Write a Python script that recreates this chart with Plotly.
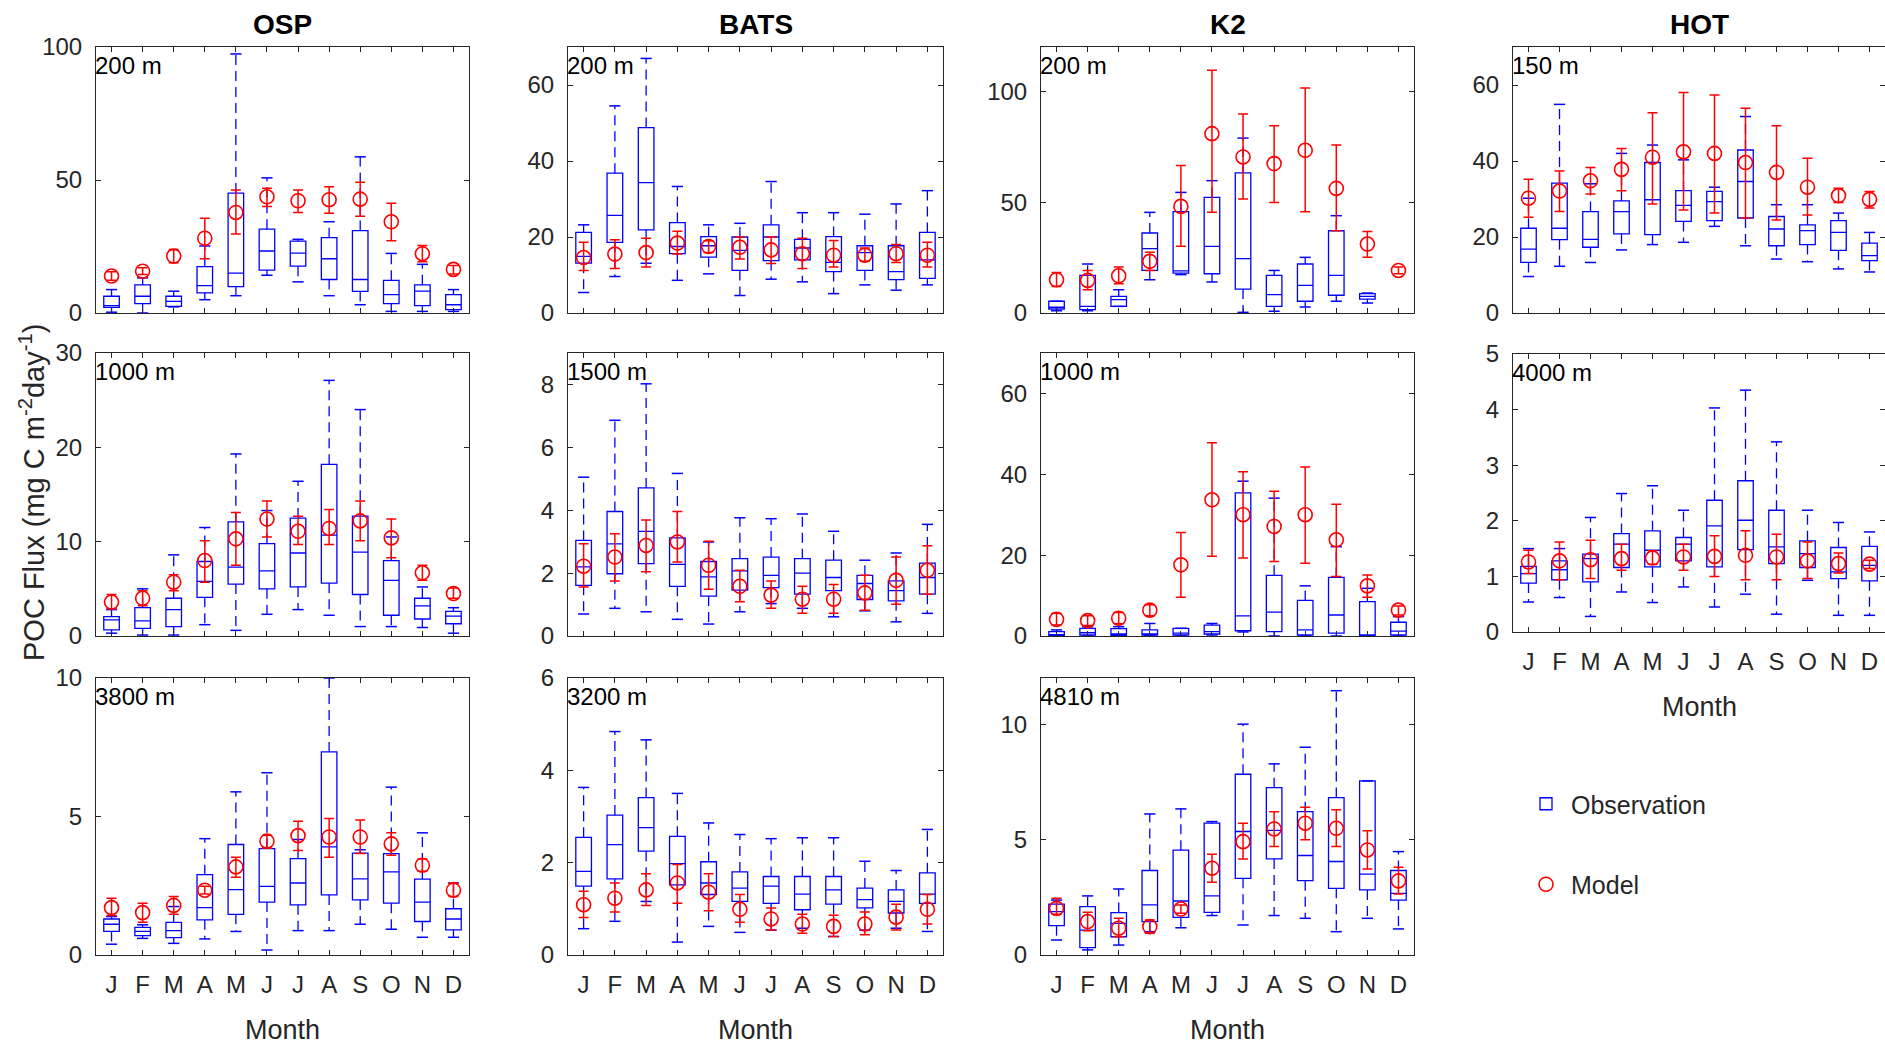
import plotly.graph_objects as go

months = ['J', 'F', 'M', 'A', 'M', 'J', 'J', 'A', 'S', 'O', 'N', 'D']
mnum = list(range(1, 13))

# ---------------- OSP ----------------
osp200_wlo = [0.3, 0.0, 2.3, 5.0, 6.5, 14.2, 11.7, 6.5, 3.1, 0.6, 0.6, 0.6]
osp200_q1 = [2.1, 3.5, 2.5, 7.6, 9.9, 16.1, 17.6, 12.6, 8.1, 3.5, 2.8, 1.3]
osp200_med = [2.8, 6.3, 4.4, 10.3, 15.0, 23.3, 22.5, 20.4, 12.6, 6.9, 8.2, 3.1]
osp200_q3 = [6.3, 10.6, 6.3, 17.4, 45.1, 31.5, 27.0, 28.3, 31.0, 12.3, 10.6, 6.9]
osp200_whi = [8.8, 13.2, 8.2, 25.2, 97.4, 50.8, 27.7, 34.3, 58.7, 22.4, 18.3, 8.8]
osp200_mod = [13.9, 15.7, 21.4, 28.1, 37.8, 43.7, 42.2, 42.6, 42.8, 34.3, 22.3, 16.4]
osp200_mhi = [15.5, 17.0, 23.9, 35.6, 46.2, 46.9, 46.2, 47.5, 49.2, 41.3, 25.4, 17.9]
osp200_mlo = [12.3, 14.5, 18.9, 20.4, 29.7, 40.0, 37.8, 37.5, 36.4, 27.2, 19.3, 14.7]

osp1000_wlo = [0.3, 0.1, 0.1, 1.2, 0.6, 2.3, 2.8, 2.2, 1.0, 1.0, 0.9, 0.3]
osp1000_q1 = [0.64, 0.8, 1.0, 4.1, 5.5, 5.0, 5.2, 5.6, 4.4, 2.2, 1.8, 1.3]
osp1000_med = [1.7, 1.6, 2.8, 5.8, 7.3, 6.9, 8.8, 10.7, 8.9, 5.9, 3.2, 2.1]
osp1000_q3 = [2.05, 3.0, 4.0, 7.9, 12.1, 9.8, 12.5, 18.2, 12.7, 8.0, 4.0, 2.6]
osp1000_whi = [2.8, 5.0, 8.6, 11.5, 19.3, 13.3, 16.4, 27.1, 24.0, 10.5, 5.2, 3.0]
osp1000_mod = [3.6, 4.0, 5.7, 8.0, 10.3, 12.4, 11.1, 11.4, 12.2, 10.4, 6.7, 4.5]
osp1000_mhi = [4.4, 4.8, 6.5, 10.1, 13.1, 14.3, 12.7, 13.4, 14.3, 12.4, 7.5, 5.1]
osp1000_mlo = [2.9, 3.2, 4.8, 5.7, 7.5, 10.5, 9.7, 9.7, 10.1, 8.3, 5.9, 4.0]

osp3800_wlo = [0.39, 0.6, 0.42, 0.58, 0.85, 0.18, 0.88, 0.88, 1.11, 0.93, 0.64, 0.64]
osp3800_q1 = [0.85, 0.7, 0.63, 1.27, 1.47, 1.91, 1.81, 2.17, 1.99, 1.87, 1.21, 0.91]
osp3800_med = [1.11, 0.85, 0.88, 1.71, 2.36, 2.48, 2.6, 3.9, 2.75, 3.0, 1.91, 1.3]
osp3800_q3 = [1.3, 1.0, 1.18, 2.9, 3.99, 3.84, 3.48, 7.33, 3.68, 3.66, 2.74, 1.67]
osp3800_whi = [1.39, 1.09, 1.75, 4.2, 5.89, 6.58, 4.17, 10.0, 3.8, 6.06, 4.41, 2.6]
osp3800_mod = [1.71, 1.53, 1.79, 2.34, 3.18, 4.11, 4.31, 4.26, 4.26, 4.01, 3.24, 2.34]
osp3800_mhi = [2.05, 1.87, 2.11, 2.48, 3.53, 4.32, 4.83, 4.93, 4.87, 4.41, 3.47, 2.6]
osp3800_mlo = [1.43, 1.18, 1.47, 2.2, 2.81, 3.86, 3.77, 3.53, 3.66, 3.6, 3.02, 2.11]

# ---------------- BATS ----------------
bats200_wlo = [5.4, 9.6, 13.1, 8.6, 10.3, 4.6, 8.9, 8.2, 5.1, 7.4, 6.0, 7.4]
bats200_q1 = [13.1, 18.6, 21.9, 15.6, 14.7, 11.2, 13.8, 14.0, 10.9, 11.2, 8.8, 9.1]
bats200_med = [14.9, 25.7, 34.3, 17.5, 17.7, 16.5, 20.0, 17.1, 13.3, 15.9, 10.9, 14.0]
bats200_q3 = [21.2, 36.8, 48.8, 23.8, 20.1, 20.0, 23.2, 19.4, 20.1, 17.7, 17.7, 21.2]
bats200_whi = [23.2, 54.5, 67.0, 33.3, 23.2, 23.6, 34.6, 26.4, 26.4, 26.0, 28.7, 32.2]
bats200_mod = [14.6, 15.5, 15.9, 18.4, 17.5, 17.3, 16.6, 15.6, 15.2, 15.2, 15.6, 15.2]
bats200_mhi = [18.6, 19.3, 19.7, 21.5, 19.0, 20.0, 20.0, 19.7, 19.1, 17.1, 18.0, 18.6]
bats200_mlo = [11.2, 11.7, 12.1, 15.5, 15.9, 14.2, 13.0, 11.7, 12.1, 13.6, 13.3, 12.1]

bats1500_wlo = [0.7, 0.88, 0.77, 0.53, 0.38, 0.77, 1.03, 0.88, 0.61, 0.8, 0.45, 0.72]
bats1500_q1 = [1.61, 1.98, 2.3, 1.58, 1.27, 1.46, 1.54, 1.33, 1.44, 1.16, 1.12, 1.33]
bats1500_med = [2.2, 2.93, 3.33, 2.28, 1.88, 2.07, 1.93, 2.0, 1.86, 1.67, 1.44, 1.86]
bats1500_q3 = [3.04, 3.96, 4.71, 3.12, 2.37, 2.46, 2.51, 2.46, 2.41, 1.93, 1.75, 2.32]
bats1500_whi = [5.05, 6.86, 8.02, 5.17, 2.99, 3.76, 3.73, 3.88, 3.33, 2.41, 2.64, 3.55]
bats1500_mod = [2.22, 2.51, 2.88, 2.99, 2.25, 1.58, 1.3, 1.17, 1.17, 1.37, 1.77, 2.09]
bats1500_mhi = [2.93, 3.25, 3.69, 3.96, 3.01, 2.09, 1.75, 1.58, 1.64, 1.93, 2.51, 2.87]
bats1500_mlo = [1.56, 1.75, 2.04, 2.35, 1.49, 1.09, 0.88, 0.72, 0.72, 0.82, 1.01, 1.33]

bats3200_wlo = [0.57, 0.73, 1.16, 0.28, 0.62, 0.49, 0.54, 0.58, 0.4, 0.54, 0.58, 0.51]
bats3200_q1 = [1.49, 1.65, 2.25, 1.52, 1.31, 1.16, 1.12, 0.98, 1.1, 1.02, 0.91, 1.12]
bats3200_med = [1.81, 2.39, 2.76, 1.98, 1.56, 1.45, 1.49, 1.32, 1.41, 1.2, 1.16, 1.32]
bats3200_q3 = [2.55, 3.03, 3.41, 2.57, 2.02, 1.8, 1.7, 1.7, 1.7, 1.45, 1.41, 1.78]
bats3200_whi = [3.63, 4.84, 4.66, 3.5, 2.86, 2.61, 2.52, 2.54, 2.54, 2.03, 1.83, 2.72]
bats3200_mod = [1.09, 1.23, 1.41, 1.56, 1.36, 0.99, 0.78, 0.67, 0.62, 0.67, 0.82, 0.99]
bats3200_mhi = [1.38, 1.56, 1.76, 1.96, 1.76, 1.31, 1.02, 0.88, 0.86, 0.93, 1.1, 1.31]
bats3200_mlo = [0.81, 0.93, 1.07, 1.12, 0.96, 0.71, 0.54, 0.47, 0.4, 0.44, 0.54, 0.67]

# ---------------- K2 (no December observation at 200 m) ----------------
k2200_wlo = [1.0, 1.0, 3.0, 15.0, 17.3, 14.0, 0.3, 0.8, 2.7, 5.3, 4.5, None]
k2200_q1 = [1.8, 1.5, 3.0, 19.2, 18.0, 17.7, 10.8, 3.0, 5.3, 8.0, 6.3, None]
k2200_med = [2.6, 3.0, 6.0, 29.0, 19.0, 30.1, 24.5, 8.3, 12.5, 17.0, 7.5, None]
k2200_q3 = [5.3, 17.0, 7.5, 36.1, 45.7, 52.2, 63.2, 17.0, 22.1, 37.1, 8.7, None]
k2200_whi = [5.3, 22.1, 10.5, 45.4, 54.4, 59.7, 78.9, 19.2, 25.1, 43.9, 9.0, None]
k2200_mod = [15.0, 14.7, 16.8, 23.3, 48.1, 80.9, 70.4, 67.4, 73.4, 56.2, 31.1, 19.2]
k2200_mhi = [18.3, 19.2, 20.8, 27.4, 66.5, 109.5, 89.8, 84.5, 101.5, 75.8, 36.8, 20.8]
k2200_mlo = [12.0, 10.5, 13.2, 19.2, 30.1, 45.4, 51.4, 49.9, 45.7, 37.1, 25.1, 17.7]

k21000_wlo = [0.0, 0.0, 0.0, 0.0, 0.0, 0.25, 1.0, 0.0, 0.0, 0.0, 0.0, 0.0]
k21000_q1 = [0.1, 0.25, 0.15, 0.25, 0.25, 0.5, 1.3, 1.1, 0.25, 0.7, 0.0, 0.25]
k21000_med = [0.3, 0.8, 0.5, 0.5, 0.7, 1.1, 5.0, 5.9, 1.5, 5.2, 0.25, 1.2]
k21000_q3 = [1.1, 1.9, 1.8, 1.5, 1.9, 2.7, 35.4, 15.0, 8.8, 14.5, 8.5, 3.4]
k21000_whi = [1.5, 2.3, 2.3, 3.1, 1.9, 3.1, 38.3, 34.1, 12.4, 22.1, 11.8, 4.8]
k21000_mod = [4.1, 3.8, 4.4, 6.4, 17.6, 33.7, 30.0, 27.1, 30.0, 23.8, 12.4, 6.4]
k21000_mhi = [5.6, 5.0, 5.8, 7.7, 25.6, 47.8, 40.6, 35.8, 41.8, 32.6, 15.1, 7.4]
k21000_mlo = [2.7, 2.6, 3.0, 5.0, 9.6, 19.7, 19.3, 18.4, 18.0, 14.7, 9.6, 5.2]

k24810_wlo = [0.65, 0.22, 0.43, 1.01, 1.18, 1.71, 1.3, 1.71, 1.59, 1.01, 1.59, 1.13]
k24810_q1 = [1.27, 0.32, 0.79, 1.45, 1.63, 1.85, 3.32, 4.16, 3.22, 2.89, 2.82, 2.38]
k24810_med = [1.88, 1.08, 1.37, 2.17, 2.34, 2.56, 5.35, 5.4, 4.31, 4.05, 3.5, 2.67]
k24810_q3 = [2.2, 2.1, 1.84, 3.66, 4.54, 5.71, 7.83, 7.25, 6.21, 6.82, 7.54, 3.66]
k24810_whi = [2.38, 2.56, 2.86, 6.11, 6.33, 5.78, 10.0, 8.28, 9.0, 11.45, 7.54, 4.48]
k24810_mod = [2.02, 1.45, 1.16, 1.23, 1.99, 3.76, 4.91, 5.46, 5.71, 5.49, 4.55, 3.21]
k24810_mhi = [2.46, 1.85, 1.59, 1.52, 2.17, 4.36, 5.71, 6.21, 6.4, 6.29, 5.38, 3.8]
k24810_mlo = [1.76, 1.05, 0.79, 0.94, 1.81, 3.15, 4.16, 4.7, 4.99, 4.7, 3.73, 2.64]

# ---------------- HOT ----------------
hot150_wlo = [9.6, 12.3, 13.3, 16.6, 18.0, 18.6, 22.8, 17.7, 14.2, 13.5, 11.6, 10.8]
hot150_q1 = [13.3, 19.3, 17.3, 20.8, 20.6, 24.1, 24.3, 25.0, 17.7, 18.0, 16.5, 13.8]
hot150_med = [16.8, 22.3, 19.4, 26.7, 29.8, 28.3, 29.3, 34.6, 22.1, 21.7, 21.2, 15.1]
hot150_q3 = [22.3, 34.2, 26.7, 29.5, 39.6, 32.2, 32.0, 42.9, 25.4, 23.2, 24.3, 18.4]
hot150_whi = [30.2, 54.9, 34.0, 42.0, 44.2, 40.3, 33.1, 51.7, 28.5, 28.5, 26.3, 21.2]
hot150_mod = [30.2, 32.1, 34.8, 37.8, 41.0, 42.4, 42.0, 39.6, 37.0, 33.1, 30.9, 29.9]
hot150_mhi = [35.2, 37.4, 38.3, 43.3, 52.7, 58.0, 57.4, 53.9, 49.3, 40.7, 32.8, 32.0]
hot150_mlo = [25.2, 26.7, 31.3, 32.2, 28.7, 27.1, 26.3, 25.0, 24.5, 25.8, 29.1, 27.6]

hot4000_wlo = [0.54, 0.62, 0.28, 0.72, 0.53, 0.81, 0.45, 0.68, 0.32, 0.93, 0.3, 0.3]
hot4000_q1 = [0.88, 0.94, 0.9, 1.16, 1.17, 1.28, 1.17, 1.48, 1.23, 1.16, 0.96, 0.92]
hot4000_med = [1.05, 1.12, 1.32, 1.58, 1.47, 1.58, 1.91, 2.01, 1.53, 1.41, 1.08, 1.2]
hot4000_q3 = [1.18, 1.28, 1.4, 1.77, 1.82, 1.7, 2.37, 2.72, 2.19, 1.64, 1.52, 1.54]
hot4000_whi = [1.5, 1.5, 2.06, 2.49, 2.63, 2.19, 4.03, 4.35, 3.42, 2.19, 1.97, 1.8]
hot4000_mod = [1.26, 1.28, 1.3, 1.32, 1.33, 1.35, 1.36, 1.38, 1.35, 1.28, 1.23, 1.22]
hot4000_mhi = [1.47, 1.62, 1.65, 1.58, 1.46, 1.58, 1.73, 1.82, 1.76, 1.62, 1.42, 1.29]
hot4000_mlo = [1.05, 0.94, 0.96, 1.11, 1.22, 1.11, 1.0, 0.94, 0.94, 0.96, 1.06, 1.14]

stations = ['OSP', 'BATS', 'K2', 'HOT']
depth_labels = {
    (0, 0): '200 m', (1, 0): '1000 m', (2, 0): '3800 m',
    (0, 1): '200 m', (1, 1): '1500 m', (2, 1): '3200 m',
    (0, 2): '200 m', (1, 2): '1000 m', (2, 2): '4810 m',
    (0, 3): '150 m', (1, 3): '4000 m',
}
y_ranges = {
    (0, 0): 100, (1, 0): 30, (2, 0): 10,
    (0, 1): 70, (1, 1): 9, (2, 1): 6,
    (0, 2): 120, (1, 2): 70, (2, 2): 12,
    (0, 3): 70, (1, 3): 5,
}
y_dticks = {
    (0, 0): 50, (1, 0): 10, (2, 0): 5,
    (0, 1): 20, (1, 1): 2, (2, 1): 2,
    (0, 2): 50, (1, 2): 20, (2, 2): 5,
    (0, 3): 20, (1, 3): 1,
}
panel_data = {
    (0, 0): (osp200_wlo, osp200_q1, osp200_med, osp200_q3, osp200_whi, osp200_mod, osp200_mhi, osp200_mlo),
    (1, 0): (osp1000_wlo, osp1000_q1, osp1000_med, osp1000_q3, osp1000_whi, osp1000_mod, osp1000_mhi, osp1000_mlo),
    (2, 0): (osp3800_wlo, osp3800_q1, osp3800_med, osp3800_q3, osp3800_whi, osp3800_mod, osp3800_mhi, osp3800_mlo),
    (0, 1): (bats200_wlo, bats200_q1, bats200_med, bats200_q3, bats200_whi, bats200_mod, bats200_mhi, bats200_mlo),
    (1, 1): (bats1500_wlo, bats1500_q1, bats1500_med, bats1500_q3, bats1500_whi, bats1500_mod, bats1500_mhi, bats1500_mlo),
    (2, 1): (bats3200_wlo, bats3200_q1, bats3200_med, bats3200_q3, bats3200_whi, bats3200_mod, bats3200_mhi, bats3200_mlo),
    (0, 2): (k2200_wlo, k2200_q1, k2200_med, k2200_q3, k2200_whi, k2200_mod, k2200_mhi, k2200_mlo),
    (1, 2): (k21000_wlo, k21000_q1, k21000_med, k21000_q3, k21000_whi, k21000_mod, k21000_mhi, k21000_mlo),
    (2, 2): (k24810_wlo, k24810_q1, k24810_med, k24810_q3, k24810_whi, k24810_mod, k24810_mhi, k24810_mlo),
    (0, 3): (hot150_wlo, hot150_q1, hot150_med, hot150_q3, hot150_whi, hot150_mod, hot150_mhi, hot150_mlo),
    (1, 3): (hot4000_wlo, hot4000_q1, hot4000_med, hot4000_q3, hot4000_whi, hot4000_mod, hot4000_mhi, hot4000_mlo),
}

# ---------------- layout geometry (pixels of a 1885x1048 page) ----------------
W, H = 1885, 1048
col_px = [(96, 469), (568, 943), (1041, 1414), (1513, 1885)]
row_px = [(47, 313), (353, 636), (678, 955)]
hot_row2_px = (354, 632)

FONT = 'Liberation Sans, Arial, Helvetica, sans-serif'
TXT = '#262626'
BLUE = 'rgb(0,0,255)'
RED = 'rgb(255,0,0)'
DASH = '10px,6px'

fig = go.Figure()
layout = dict(
    width=W, height=H,
    margin=dict(l=0, r=0, t=0, b=0, autoexpand=False),
    paper_bgcolor='white', plot_bgcolor='white',
    font=dict(family=FONT, size=24, color=TXT),
    showlegend=True,
    legend=dict(x=1521 / W, y=1 - 781 / H, xanchor='left', yanchor='top',
                font=dict(size=25, color=TXT), bgcolor='rgba(0,0,0,0)',
                tracegroupgap=45, itemwidth=40),
)
annotations = []

idx = 0
legend_done = False
for (r, c), data in panel_data.items():
    idx += 1
    xa = 'x' if idx == 1 else f'x{idx}'
    ya = 'y' if idx == 1 else f'y{idx}'
    wlo, q1, med, q3, whi, mod, mhi, mlo = data

    is_bottom = (r == 2) or (c == 3 and r == 1)
    x0, x1 = col_px[c]
    y0, y1 = hot_row2_px if (c == 3 and r == 1) else row_px[r]
    axis_common = dict(
        showline=True, linecolor=TXT, linewidth=1, mirror='ticks', automargin=False,
        ticks='inside', ticklen=5, tickcolor=TXT, showgrid=False, zeroline=False,
        tickfont=dict(family=FONT, size=24, color=TXT),
    )
    layout['xaxis' if idx == 1 else f'xaxis{idx}'] = dict(
        axis_common, domain=[x0 / W, x1 / W], anchor=ya, range=[0.5, 12.5],
        tickvals=mnum, ticktext=months, showticklabels=is_bottom, ticklabelstandoff=8,
    )
    layout['yaxis' if idx == 1 else f'yaxis{idx}'] = dict(
        axis_common, domain=[1 - y1 / H, 1 - y0 / H], anchor=xa,
        range=[0, y_ranges[(r, c)]], dtick=y_dticks[(r, c)], tick0=0, ticklabelstandoff=8,
    )

    sel = [i for i, v in enumerate(q1) if v is not None]
    xs = [mnum[i] for i in sel]
    q1s = [q1[i] for i in sel]
    meds = [med[i] for i in sel]
    q3s = [q3[i] for i in sel]
    wlos = [wlo[i] for i in sel]
    whis = [whi[i] for i in sel]

    # dashed whiskers
    wx, wy = [], []
    for xm, a, b, lo, hi in zip(xs, q1s, q3s, wlos, whis):
        wx += [xm, xm, None, xm, xm, None]
        wy += [b, hi, None, a, lo, None]
    fig.add_trace(go.Scatter(x=wx, y=wy, mode='lines', xaxis=xa, yaxis=ya,
                             line=dict(color=BLUE, width=1.3, dash=DASH),
                             showlegend=False, hoverinfo='skip'))
    # whisker caps
    fig.add_trace(go.Scatter(x=xs + xs, y=whis + wlos, mode='markers', xaxis=xa, yaxis=ya,
                             marker=dict(symbol='line-ew', size=8, color=BLUE,
                                         line=dict(color=BLUE, width=1.5)),
                             showlegend=False, hoverinfo='skip'))
    # boxes
    fig.add_trace(go.Box(x=xs, q1=q1s, median=meds, q3=q3s, lowerfence=q1s, upperfence=q3s,
                         xaxis=xa, yaxis=ya, width=0.5, whiskerwidth=0,
                         line=dict(color=BLUE, width=1.3), fillcolor='rgba(0,0,0,0)',
                         boxpoints=False, name='Observation', legendgroup='obs',
                         showlegend=not legend_done))
    # model
    fig.add_trace(go.Scatter(
        x=mnum, y=mod, mode='markers', xaxis=xa, yaxis=ya, name='Model', legendgroup='mod',
        marker=dict(symbol='circle-open', size=14, color=RED, line=dict(color=RED, width=1.6)),
        error_y=dict(type='data', symmetric=False,
                     array=[h - m for h, m in zip(mhi, mod)],
                     arrayminus=[m - l for m, l in zip(mod, mlo)],
                     color=RED, thickness=1.5, width=5),
        showlegend=not legend_done))
    legend_done = True

    annotations.append(dict(text=depth_labels[(r, c)], xref=f'{xa} domain', yref=f'{ya} domain',
                            x=0, y=1, xanchor='left', yanchor='top', xshift=-3, yshift=-3,
                            showarrow=False, font=dict(size=24, color='black')))
    if is_bottom:
        annotations.append(dict(text='Month', xref='paper', yref='paper',
                                x=((x0 + x1) / 2) / W, y=1 - (y1 + 75) / H,
                                xanchor='center', yanchor='middle',
                                showarrow=False, font=dict(size=27, color=TXT)))

for c, name in enumerate(stations):
    x0, x1 = col_px[c]
    annotations.append(dict(text=f'<b>{name}</b>', xref='paper', yref='paper',
                            x=((x0 + x1) / 2) / W, y=1 - 24 / H, xanchor='center', yanchor='middle',
                            showarrow=False, font=dict(size=28, color='black')))

annotations.append(dict(text='POC Flux (mg C m<sup>-2</sup>day<sup>-1</sup>)', xref='paper', yref='paper',
                        x=32 / W, y=1 - 493 / H, xanchor='center', yanchor='middle', textangle=-90,
                        showarrow=False, font=dict(size=29, color=TXT)))

layout['annotations'] = annotations
fig.update_layout(**layout)
fig.write_html('out.html')
